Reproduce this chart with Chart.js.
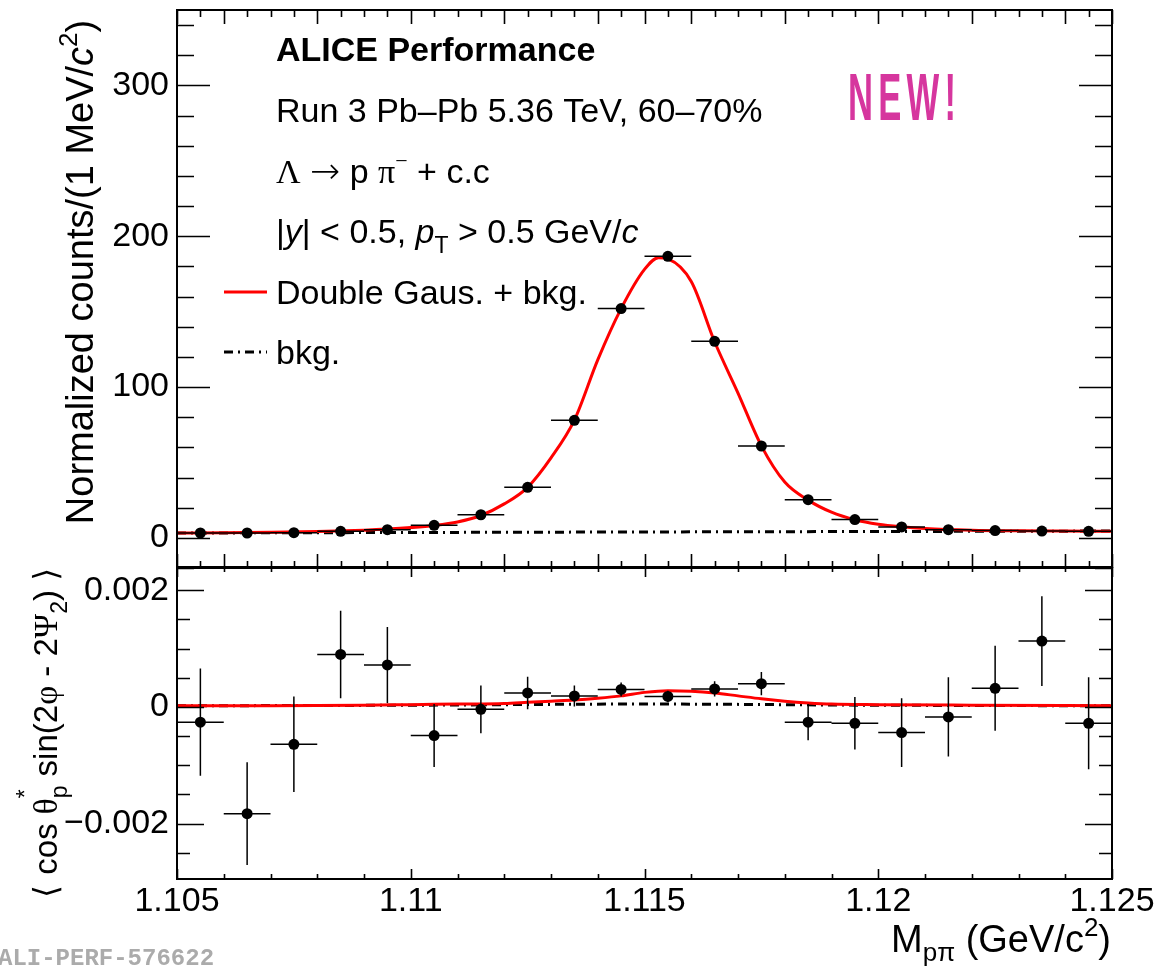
<!DOCTYPE html>
<html>
<head>
<meta charset="utf-8">
<script src="https://cdn.jsdelivr.net/npm/chart.js@4.4.0/dist/chart.umd.min.js"></script>
<style>
  html, body { margin: 0; padding: 0; background: #fff; }
  #wrap { position: relative; width: 1158px; height: 967px; }
  canvas { position: absolute; left: 0; top: 0; }
</style>
</head>
<body>
<div id="wrap">
  <canvas id="topChart" width="1158" height="967"></canvas>
  <canvas id="bottomChart" width="1158" height="967"></canvas>
</div>
<script>
// bin centres of the p-pi invariant mass histogram (GeV/c^2), 1 MeV bins
const massBins = [1.1055, 1.1065, 1.1075, 1.1085, 1.1095, 1.1105, 1.1115, 1.1125, 1.1135, 1.1145,
                  1.1155, 1.1165, 1.1175, 1.1185, 1.1195, 1.1205, 1.1215, 1.1225, 1.1235, 1.1245];
const binHalfWidth = 0.0005;

// upper panel: normalized counts
const counts = [3.2, 3.2, 3.4, 4.3, 5.4, 8.3, 15.3, 33.5, 77.9, 152,
                186.7, 130.3, 60.9, 25.3, 12.1, 7.2, 5.4, 4.8, 4.5, 4.3];

// double gaus + bkg fit
const fitMass = [1.105, 1.106, 1.107, 1.108, 1.109, 1.1095, 1.110, 1.1105, 1.111, 1.1115, 1.112, 1.1125,
                 1.113, 1.1135, 1.114, 1.1145, 1.115, 1.1153, 1.1155, 1.116, 1.1165, 1.117, 1.1175,
                 1.118, 1.1185, 1.119, 1.1195, 1.120, 1.1205, 1.121, 1.122, 1.123, 1.124, 1.125];
const fitCounts = [3.2, 3.4, 3.7, 4.2, 5.1, 5.8, 6.8, 8.2, 10.5, 14.8, 22.5, 33.5,
                   53, 78, 118, 152, 178, 185.8, 185, 170, 130, 96, 61,
                   37, 25, 17, 12, 9, 7.3, 6.2, 5.1, 4.7, 4.5, 4.4];
const bkgMass = [1.105, 1.115, 1.125];
const bkgCounts = [3.2, 3.9, 4.5];

// lower panel: <cos theta*_p sin(2phi - 2Psi_2)>
const flowValues = [-0.00026, -0.00183, -0.00064, 0.00090, 0.00072, -0.00049, -0.00004, 0.00024, 0.00019, 0.00030,
                    0.00018, 0.00031, 0.00040, -0.00026, -0.00028, -0.00044, -0.00017, 0.00032, 0.00113, -0.00028];
const flowErrors = [0.00092, 0.00088, 0.00082, 0.00075, 0.00065, 0.00054, 0.00041, 0.00028, 0.00018, 0.00012,
                    0.00010, 0.00013, 0.00020, 0.00031, 0.00045, 0.00059, 0.00068, 0.00073, 0.00077, 0.00079];
const flowFitMass = [1.105, 1.107, 1.109, 1.110, 1.111, 1.112, 1.1125, 1.113, 1.1135, 1.114, 1.1145, 1.115,
                     1.1155, 1.116, 1.1165, 1.117, 1.1175, 1.118, 1.1185, 1.119, 1.120, 1.122, 1.125];
const flowFitValues = [0.00002, 0.00002, 0.00003, 0.00004, 0.00005, 0.00006, 0.00008, 0.00010, 0.00012, 0.00015, 0.00019, 0.00025,
                       0.00028, 0.00027, 0.00024, 0.00019, 0.00014, 0.00010, 0.00007, 0.00005, 0.00004, 0.00003, 0.00002];
const flowBkgMass = [1.105, 1.110, 1.115, 1.120, 1.125];
const flowBkgValues = [0.00002, 0.00003, 0.00005, 0.00003, 0.00002];

// axis ticks
const massTicks = [1.105, 1.11, 1.115, 1.12, 1.125];
const massTickLabels = ["1.105", "1.11", "1.115", "1.12", "1.125"];
const countTicks = [0, 100, 200, 300];
const flowTicks = [-0.002, 0, 0.002];
const flowTickLabels = ["\u22120.002", "0", "0.002"];

const SANS = '"Liberation Sans", Arial, sans-serif';
const SERIF = '"Liberation Serif", "Times New Roman", serif';
Chart.defaults.font.family = SANS;

// helpers to turn values + errors into broken line segments
function xErrSegments(xs, ys, hw) {
  const out = [];
  xs.forEach((x, i) => {
    out.push({ x: x - hw, y: ys[i] }, { x: x + hw, y: ys[i] }, { x: x + hw, y: null });
  });
  return out;
}
function yErrSegments(xs, ys, errs) {
  const out = [];
  xs.forEach((x, i) => {
    out.push({ x: x, y: ys[i] - errs[i] }, { x: x, y: ys[i] + errs[i] }, { x: x, y: null });
  });
  return out;
}
function pairs(xs, ys) {
  return xs.map((x, i) => ({ x: x, y: ys[i] }));
}

// no extra room for labels sticking out of the scale box
function noScalePadding(s) {
  s.paddingTop = 0; s.paddingBottom = 0; s.paddingLeft = 0; s.paddingRight = 0;
}

// draws a run of text pieces with different fonts / offsets
function rich(ctx, x, y, parts, measureOnly) {
  let cx = x;
  parts.forEach(p => {
    ctx.font = p.f;
    if (!measureOnly) ctx.fillText(p.t, cx, y + (p.dy || 0));
    if (p.adv !== false) cx += ctx.measureText(p.t).width;
  });
  return cx - x;
}

function frameAndTicks(chart, opt) {
  const { ctx, chartArea: a } = chart;
  const xs = chart.scales.x, ys = chart.scales.y;
  ctx.save();
  ctx.strokeStyle = '#000';
  ctx.lineWidth = 1.6;
  ctx.beginPath();
  // y ticks, both sides
  for (let k = opt.yFrom; k <= opt.yTo; k++) {
    const v = k * opt.yStep;
    const py = Math.round(ys.getPixelForValue(v)) + 0.5;
    const len = (k % opt.yMajorEvery === 0) ? opt.yMajorLen : opt.yMinorLen;
    ctx.moveTo(a.left, py); ctx.lineTo(a.left + len, py);
    ctx.moveTo(a.right, py); ctx.lineTo(a.right - len, py);
  }
  // x ticks, both edges
  for (let k = 0; k <= opt.xCount; k++) {
    const v = 1.105 + k * opt.xStep;
    const px = Math.round(xs.getPixelForValue(v)) + 0.5;
    const len = opt.xLen(k);
    ctx.moveTo(px, a.top); ctx.lineTo(px, a.top + len[0]);
    ctx.moveTo(px, a.bottom); ctx.lineTo(px, a.bottom - len[1]);
  }
  ctx.stroke();
  ctx.lineWidth = 2;
  ctx.strokeRect(a.left, a.top, a.right - a.left, a.bottom - a.top);
  ctx.restore();
}

const topDecor = {
  id: 'topDecor',
  afterDraw(chart) {
    const ctx = chart.ctx;
    frameAndTicks(chart, {
      yFrom: -1, yTo: 17, yStep: 20, yMajorEvery: 5, yMajorLen: 33, yMinorLen: 17,
      xCount: 40, xStep: 0.0005,
      xLen: k => {
        if (k % 2 === 1) return [7, 7];
        const t = 1105 + k / 2;
        return (t % 2 === 0 || t % 5 === 0) ? [14, 14] : [7, 7];
      }
    });
    ctx.save();
    ctx.fillStyle = '#000';
    ctx.textBaseline = 'alphabetic';
    ctx.textAlign = 'left';
    const f34 = '34px ' + SANS;
    rich(ctx, 276, 61, [{ t: 'ALICE Performance', f: 'bold 34px ' + SANS }]);
    rich(ctx, 276, 122, [{ t: 'Run 3 Pb\u2013Pb 5.36 TeV, 60\u201370%', f: f34 }]);
    rich(ctx, 276, 183, [
      { t: '\u039B', f: '34px ' + SERIF },
      { t: ' ', f: f34 },
      { t: '\u2192', f: '200 36px "DejaVu Sans", ' + SERIF },
      { t: ' p ', f: f34 },
      { t: '\u03C0', f: '34px ' + SERIF },
      { t: '\u2212', f: '22px ' + SERIF, dy: -15 },
      { t: ' + c.c', f: f34 }
    ]);
    rich(ctx, 276, 243, [
      { t: '|', f: f34 },
      { t: 'y', f: 'italic 34px ' + SANS },
      { t: '| < 0.5, ', f: f34 },
      { t: 'p', f: 'italic 34px ' + SANS },
      { t: 'T', f: '23px ' + SANS, dy: 10 },
      { t: ' > 0.5 GeV/', f: f34 },
      { t: 'c', f: 'italic 34px ' + SANS }
    ]);
    // legend
    ctx.strokeStyle = '#ff0000';
    ctx.lineWidth = 3;
    ctx.beginPath(); ctx.moveTo(224, 292); ctx.lineTo(267, 292); ctx.stroke();
    rich(ctx, 276, 304, [{ t: 'Double Gaus. + bkg.', f: f34 }]);
    ctx.strokeStyle = '#000';
    ctx.setLineDash([9, 5, 2, 5]);
    ctx.beginPath(); ctx.moveTo(224, 352); ctx.lineTo(267, 352); ctx.stroke();
    ctx.setLineDash([]);
    rich(ctx, 276, 364, [{ t: 'bkg.', f: f34 }]);

    // NEW! sticker
    ctx.fillStyle = '#d6369e';
    ctx.font = 'bold 66px "Liberation Sans Narrow", ' + SANS;
    ctx.letterSpacing = '10px';
    const w = ctx.measureText('NEW!').width - 10;
    ctx.translate(848, 120);
    ctx.scale(108 / w, 1);
    ctx.fillText('NEW!', 0, 0);
    ctx.letterSpacing = '0px';
    ctx.restore();

    // y title
    ctx.save();
    ctx.fillStyle = '#000';
    const yParts = [
      { t: 'Normalized counts/(1 MeV/', f: '38px ' + SANS },
      { t: 'c', f: 'italic 38px ' + SANS },
      { t: '2', f: '26px ' + SANS, dy: -16 },
      { t: ')', f: '38px ' + SANS }
    ];
    ctx.translate(93, 272);
    ctx.rotate(-Math.PI / 2);
    const tw = rich(ctx, 0, 0, yParts, true);
    rich(ctx, -tw / 2, 0, yParts);
    ctx.restore();
  }
};

const bottomDecor = {
  id: 'bottomDecor',
  afterDraw(chart) {
    const ctx = chart.ctx;
    frameAndTicks(chart, {
      yFrom: -5, yTo: 4, yStep: 0.0005, yMajorEvery: 4, yMajorLen: 27, yMinorLen: 13,
      xCount: 20, xStep: 0.001,
      xLen: k => ((k % 5 === 0) ? [10, 10] : [5, 5])
    });
    ctx.save();
    ctx.fillStyle = '#000';
    // lower y title
    const lParts = [
      { t: '\u27E8 ', f: '33px "DejaVu Sans", ' + SERIF },
      { t: 'cos ', f: '33px ' + SANS },
      { t: '\u03B8', f: '33px ' + SERIF },
      { t: '*', f: '23px ' + SANS, dy: -24, adv: false },
      { t: 'p', f: '23px ' + SANS, dy: 10 },
      { t: ' sin(2', f: '33px ' + SANS },
      { t: '\u03C6', f: '33px ' + SERIF },
      { t: ' - 2', f: '33px ' + SANS },
      { t: '\u03A8', f: '33px ' + SERIF },
      { t: '2', f: '23px ' + SANS, dy: 10 },
      { t: ') ', f: '33px ' + SANS },
      { t: '\u27E9', f: '33px "DejaVu Sans", ' + SERIF }
    ];
    ctx.translate(57, 733);
    ctx.rotate(-Math.PI / 2);
    const lw = rich(ctx, 0, 0, lParts, true);
    rich(ctx, -lw / 2, 0, lParts);
    ctx.restore();

    // x title
    ctx.save();
    ctx.fillStyle = '#000';
    const xParts = [
      { t: 'M', f: '38px ' + SANS },
      { t: 'p\u03C0', f: '26px ' + SANS, dy: 9 },
      { t: ' (GeV/c', f: '38px ' + SANS },
      { t: '2', f: '26px ' + SANS, dy: -16 },
      { t: ')', f: '38px ' + SANS }
    ];
    const xw = rich(ctx, 0, 0, xParts, true);
    rich(ctx, 1111 - xw, 952, xParts);

    ctx.fillStyle = '#ababab';
    ctx.font = 'bold 24px "Liberation Mono", monospace';
    ctx.fillText('ALI-PERF-576622', -2, 965);
    ctx.restore();
  }
};

const tickFont = { size: 34, family: SANS };

const topChart = new Chart(document.getElementById('topChart'), {
  type: 'scatter',
  data: {
    datasets: [
      {
        label: 'data',
        data: pairs(massBins, counts),
        pointRadius: 5.5,
        pointBackgroundColor: '#000',
        pointBorderWidth: 0,
        showLine: false,
        order: 0
      },
      {
        label: 'xerr',
        data: xErrSegments(massBins, counts, binHalfWidth),
        showLine: true,
        borderColor: '#000',
        borderWidth: 1.5,
        pointRadius: 0,
        spanGaps: false,
        order: 1
      },
      {
        label: 'Double Gaus. + bkg.',
        data: pairs(fitMass, fitCounts),
        showLine: true,
        borderColor: '#ff0000',
        borderWidth: 3,
        pointRadius: 0,
        cubicInterpolationMode: 'monotone',
        order: 2
      },
      {
        label: 'bkg.',
        data: pairs(bkgMass, bkgCounts),
        showLine: true,
        borderColor: '#000',
        borderWidth: 3,
        borderDash: [9, 5, 2, 5],
        pointRadius: 0,
        order: 3
      }
    ]
  },
  options: {
    responsive: false,
    animation: false,
    devicePixelRatio: 1,
    layout: { padding: { left: 0, top: 10, right: 46, bottom: 399 } },
    plugins: { legend: { display: false }, tooltip: { enabled: false } },
    scales: {
      x: { type: 'linear', display: false, min: 1.105, max: 1.125, afterFit: noScalePadding },
      y: {
        type: 'linear',
        min: -20,
        max: 350,
        grid: { display: false, drawTicks: false },
        border: { display: false },
        afterBuildTicks: s => { s.ticks = countTicks.map(v => ({ value: v })); },
        afterFit: s => { s.width = 177; noScalePadding(s); },
        ticks: { font: tickFont, color: '#000', padding: 8, callback: v => String(v) }
      }
    }
  },
  plugins: [topDecor]
});

const bottomChart = new Chart(document.getElementById('bottomChart'), {
  type: 'scatter',
  data: {
    datasets: [
      {
        label: 'flow',
        data: pairs(massBins, flowValues),
        pointRadius: 5.5,
        pointBackgroundColor: '#000',
        pointBorderWidth: 0,
        showLine: false,
        order: 0
      },
      {
        label: 'xerr',
        data: xErrSegments(massBins, flowValues, binHalfWidth),
        showLine: true,
        borderColor: '#000',
        borderWidth: 1.5,
        pointRadius: 0,
        spanGaps: false,
        order: 1
      },
      {
        label: 'yerr',
        data: yErrSegments(massBins, flowValues, flowErrors),
        showLine: true,
        borderColor: '#000',
        borderWidth: 1.5,
        pointRadius: 0,
        spanGaps: false,
        order: 1
      },
      {
        label: 'fit',
        data: pairs(flowFitMass, flowFitValues),
        showLine: true,
        borderColor: '#ff0000',
        borderWidth: 3,
        pointRadius: 0,
        cubicInterpolationMode: 'monotone',
        order: 2
      },
      {
        label: 'bkg',
        data: pairs(flowBkgMass, flowBkgValues),
        showLine: true,
        borderColor: '#000',
        borderWidth: 3,
        borderDash: [9, 5, 2, 5],
        pointRadius: 0,
        cubicInterpolationMode: 'monotone',
        order: 3
      }
    ]
  },
  options: {
    responsive: false,
    animation: false,
    devicePixelRatio: 1,
    layout: { padding: { left: 0, top: 567, right: 46, bottom: 0 } },
    plugins: { legend: { display: false }, tooltip: { enabled: false } },
    scales: {
      x: {
        type: 'linear',
        min: 1.105,
        max: 1.125,
        grid: { display: false, drawTicks: false },
        border: { display: false },
        afterBuildTicks: s => { s.ticks = massTicks.map(v => ({ value: v })); },
        afterFit: s => { s.height = 88; noScalePadding(s); },
        ticks: {
          font: tickFont, color: '#000', padding: 2, maxRotation: 0, autoSkip: false,
          callback: (v, i) => massTickLabels[i]
        }
      },
      y: {
        type: 'linear',
        min: -0.00295,
        max: 0.0024,
        grid: { display: false, drawTicks: false },
        border: { display: false },
        afterBuildTicks: s => { s.ticks = flowTicks.map(v => ({ value: v })); },
        afterFit: s => { s.width = 177; noScalePadding(s); },
        ticks: { font: tickFont, color: '#000', padding: 8, callback: (v, i) => flowTickLabels[i] }
      }
    }
  },
  plugins: [bottomDecor]
});
</script>
</body>
</html>
